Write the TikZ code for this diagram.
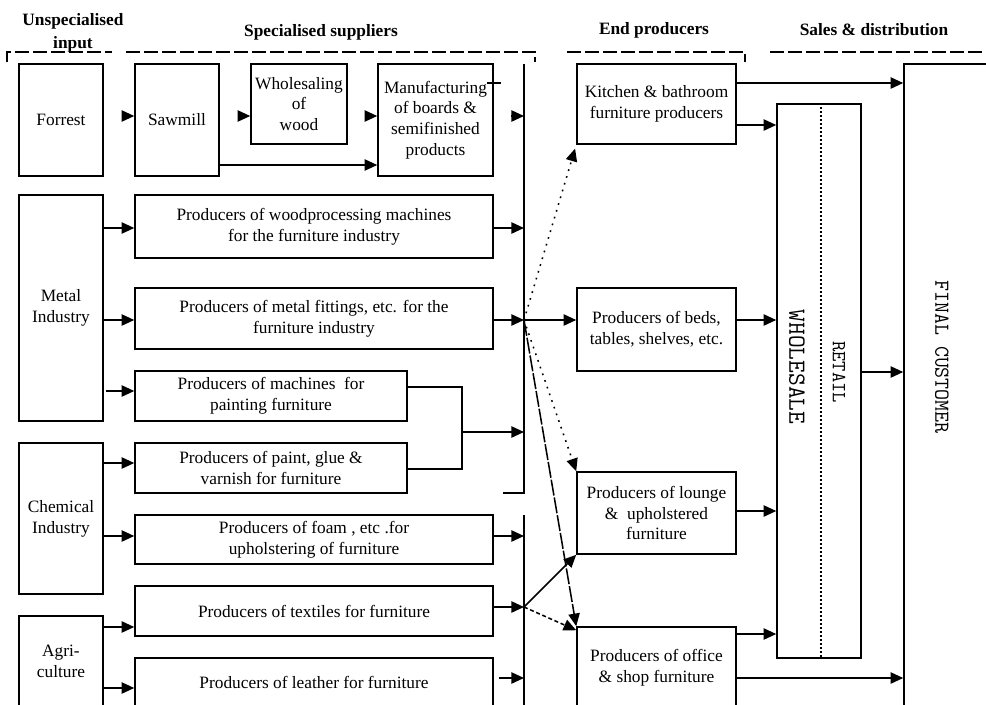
\documentclass[tikz,border=0pt]{standalone}
\usepackage{fontspec}
\setmainfont{Liberation Serif}
\usetikzlibrary{arrows.meta}
\begin{document}
\begin{tikzpicture}[x=0.75pt,y=-0.75pt,
  lw/.style={line width=1.15pt},
  box/.style={draw, lw, inner sep=0pt, align=center,
              font=\fontsize{13}{15.6}\selectfont},
  corners/.style n args={4}{minimum width={(#3-#1)*0.75pt},
              minimum height={(#4-#2)*0.75pt},
              at={({(#1+#3)/2},{(#2+#4)/2})}},
  arr/.style={lw, -{Triangle[length=9.5pt,width=8.5pt]}},
  hdr/.style={font=\bfseries\fontsize{13}{17}\selectfont, align=center},
  brack/.style={line width=1.3pt, dash pattern=on 10.5pt off 3pt},
  dotline/.style={dash pattern=on 1.3pt off 4pt},
  dashline/.style={dash pattern=on 3pt off 2pt},
  longdash/.style={dash pattern=on 12pt off 1.5pt},
  divider/.style={line width=0.9pt, dash pattern=on 1pt off 2pt},
  vtext/.style={rotate=-90, inner sep=0pt}]

% page frame
\path[fill=white, use as bounding box] (0,0) rectangle (986,704);
\clip (0,0) rectangle (986,704);

% column headers and their dashed brackets
\node[hdr] (hUnspec) at (73,33) {Unspecialised\\input};
\node[hdr] (hSpec)   at (321,32) {Specialised suppliers};
\node[hdr] (hEnd)    at (654,30) {End producers};
\node[hdr] (hSales)  at (874,30) {Sales \& distribution};
\draw[brack] (7,62) -- (7,52) -- (112,52);
\draw[brack] (126,52) -- (535,52) -- (535,62);
\draw[brack] (567,52) -- (745,52) -- (745,62);
\draw[brack] (770,52) -- (992,52);

% unspecialised input
\node[box, corners={19}{64}{103}{176}]  (forrest)  {Forrest};
\node[box, corners={19}{195}{103}{421}] (metal)    {Metal\\Industry};
\node[box, corners={19}{443}{103}{594}] (chemical) {Chemical\\Industry};
\node[box, corners={19}{616}{103}{706}] (agri)     {Agri-\\culture};

% specialised suppliers
\node[box, corners={135}{64}{219}{176}]  (sawmill) {Sawmill};
\node[box, corners={251}{64}{347}{144}]  (wholesaling) {Wholesaling\\of\\wood};
\node[box, corners={378}{64}{493}{176}]  (manuf) {Manufacturing\\of boards \&\\semifinished\\products};
\node[box, corners={135}{195}{493}{258}] (woodproc) {Producers of woodprocessing machines\\for the furniture industry};
\node[box, corners={135}{288}{493}{349}] (fittings) {Producers of metal fittings, etc. for the\\furniture industry};
\node[box, corners={135}{371}{407}{421}] (machines) {Producers of machines \ for\\painting furniture};
\node[box, corners={135}{443}{407}{493}] (paint) {Producers of paint, glue \&\\varnish for furniture};
\node[box, corners={135}{515}{493}{564}] (foam) {Producers of foam , etc .for\\upholstering of furniture};
\node[box, corners={135}{586}{493}{636}] (textiles) {Producers of textiles for furniture};
\node[box, corners={135}{658}{493}{706}] (leather) {Producers of leather for furniture};

% end producers
\node[box, corners={577}{64}{736}{144}]  (kitchen) {Kitchen \& bathroom\\furniture producers};
\node[box, corners={577}{288}{736}{371}] (beds) {Producers of beds,\\tables, shelves, etc.};
\node[box, corners={577}{472}{736}{554}] (lounge) {Producers of lounge\\\& \ upholstered\\furniture};
\node[box, corners={577}{627}{736}{708}] (office) {Producers of office\\\& shop furniture};

% sales and distribution
\node[box, corners={777}{104}{861}{658}] (wholesale) {};
\draw[divider] (821,0 |- wholesale.north) -- (821,0 |- wholesale.south);
\node[vtext, font=\ttfamily\fontsize{18.5}{18.5}\selectfont] (wsText) at (797,367) {WHOLESALE};
\node[vtext, font=\ttfamily\fontsize{15}{15}\selectfont] (rtText) at (839,372) {RETAIL};
\node[box, corners={904}{64}{1000}{760}] (final) {};
\node[vtext, font=\ttfamily\fontsize{16}{16}\selectfont] (fcText) at (942,357) {FINAL CUSTOMER};

% collecting bar of the suppliers
\coordinate (barTop)  at (524,64);
\coordinate (barEnd)  at (524,493);
\coordinate (barFoot) at (503,493);
\coordinate (barTop2) at (524,515);
\coordinate (barEnd2) at (524,712);
\coordinate (j1)  at (524,320);
\coordinate (j2)  at (524,607);
\coordinate (brk) at (462,432);
\draw[lw] (barTop) -- (barEnd) -- (barFoot);
\draw[lw] (barTop2) -- (barEnd2);

% wood chain
\draw[arr, shorten <=14pt] (forrest.east |- 0,116) -- (sawmill.west |- 0,116);
\draw[arr, shorten <=14pt] (sawmill.east |- 0,116) -- (wholesaling.west |- 0,116);
\draw[arr, shorten <=13pt] (wholesaling.east |- 0,116) -- (manuf.west |- 0,116);
\draw[arr, shorten <=13pt] (manuf.east |- 0,116) -- (barTop |- 0,116);
\draw[arr] (sawmill.east |- 0,165) -- (manuf.west |- 0,165);
\draw[lw] ([xshift=-5pt]manuf.east |- 0,83) -- ++(10.5pt,0);

% inputs into suppliers
\draw[arr] (metal.east |- 0,228) -- (woodproc.west |- 0,228);
\draw[arr] (metal.east |- 0,320) -- (fittings.west |- 0,320);
\draw[arr, shorten <=1.5pt] (metal.east |- 0,391) -- (machines.west |- 0,391);
\draw[arr] (chemical.east |- 0,463) -- (paint.west |- 0,463);
\draw[arr] (chemical.east |- 0,536) -- (foam.west |- 0,536);
\draw[arr] (agri.east |- 0,627) -- (textiles.west |- 0,627);
\draw[arr] (agri.east |- 0,688) -- (leather.west |- 0,688);

% suppliers into the bar
\draw[arr] (woodproc.east |- 0,228) -- (barTop |- 0,228);
\draw[arr] (fittings.east |- j1) -- (j1);
\draw[lw] (machines.east |- 0,387) -| (brk);
\draw[lw] (paint.east |- 0,469) -| (brk);
\draw[arr] (brk) -- (brk -| barTop);
\draw[arr] (foam.east |- 0,536) -- (barTop |- 0,536);
\draw[arr] (textiles.east |- j2) -- (j2);
\draw[arr, shorten <=4pt] (leather.east |- 0,678) -- (barTop |- 0,678);

% deliveries to the end producers
\draw[arr] (j1) -- (beds.west |- j1);
\draw[arr, dotline, shorten >=3pt] (j1) -- (kitchen.south west);
\draw[arr, dotline] (j1) -- (lounge.north west);
\draw[arr, longdash] (j1) -- (office.north west);
\draw[arr] (j2) -- (lounge.south west);
\draw[arr, dashline] (j2) -- ([yshift=-3pt]office.north west);

% end producers to sales
\draw[arr] (kitchen.east |- 0,83) -- (final.west |- 0,83);
\draw[arr] (kitchen.east |- 0,125) -- (wholesale.west |- 0,125);
\draw[arr] (beds.east |- j1) -- (wholesale.west |- j1);
\draw[arr] (lounge.east |- 0,511) -- (wholesale.west |- 0,511);
\draw[arr] (office.east |- 0,634) -- (wholesale.west |- 0,634);
\draw[arr] (office.east |- 0,678) -- (final.west |- 0,678);
\draw[arr] (wholesale.east |- 0,372) -- (final.west |- 0,372);
\end{tikzpicture}
\end{document}
